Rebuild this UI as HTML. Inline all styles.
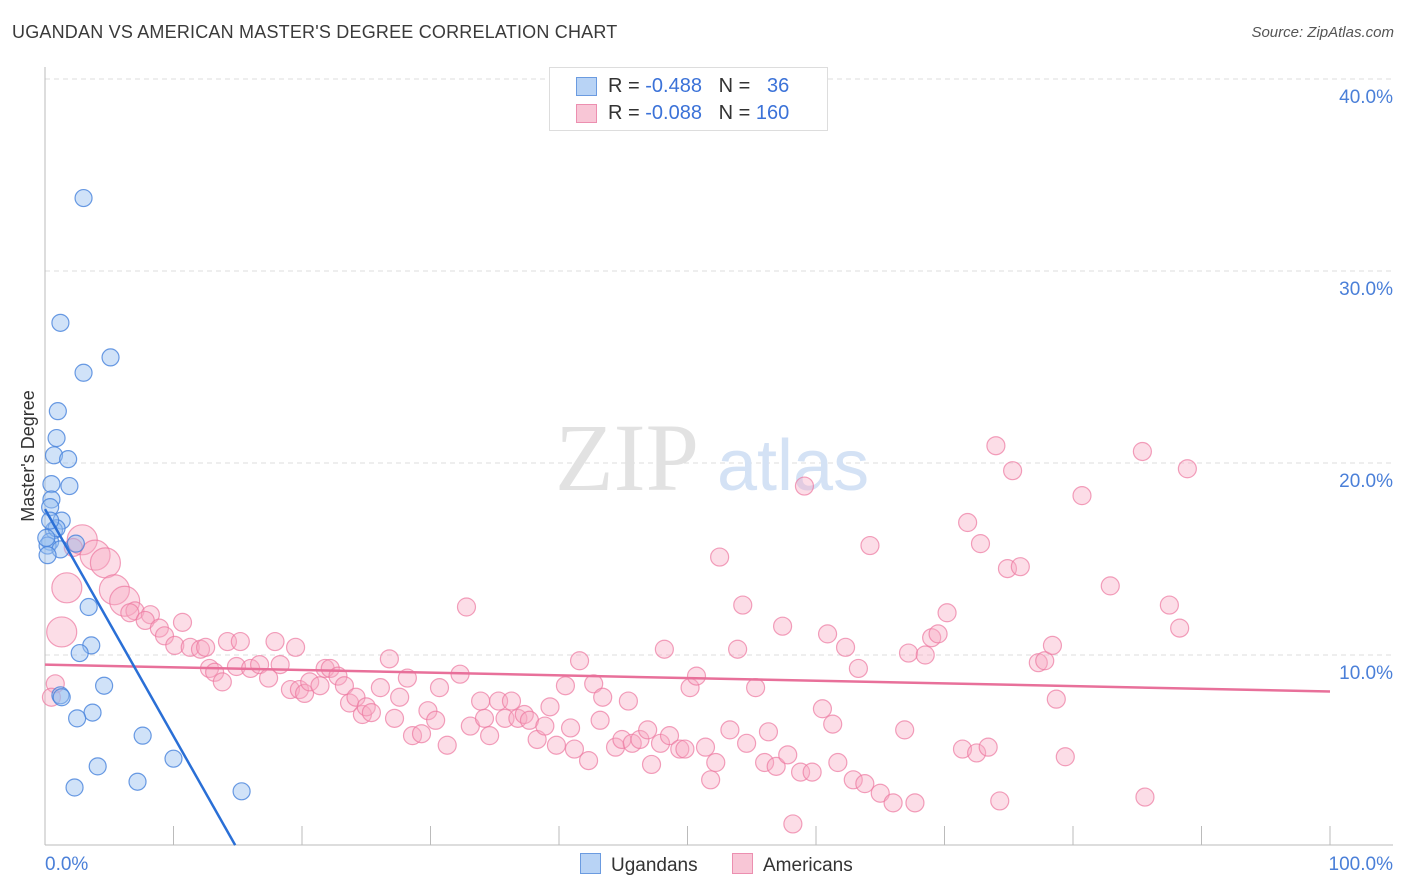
<!DOCTYPE html>
<html><head><meta charset="utf-8">
<style>
body{margin:0;background:#fff;font-family:"Liberation Sans",sans-serif;}
#wrap{position:relative;width:1406px;height:892px;overflow:hidden;}
.t{position:absolute;white-space:nowrap;}
</style></head>
<body>
<div id="wrap">
<div class="t" style="left:12px;top:22px;font-size:18px;color:#3a3a3a;letter-spacing:0.2px">UGANDAN VS AMERICAN MASTER'S DEGREE CORRELATION CHART</div>
<div class="t" style="right:12px;top:24px;font-size:15px;color:#555;font-style:italic">Source: ZipAtlas.com</div>
<svg id="svg" width="1406" height="892" style="position:absolute;left:0;top:0"></svg>
</div>
<script>
const yTicks=[10,20,30,40];
const yTickLabels=["10.0%","20.0%","30.0%","40.0%"];
const xTickLabels=["0.0%","100.0%"];
const blueX=[3.0,1.2,5.1,3.0,1.0,0.9,0.7,1.8,1.9,0.5,0.5,0.4,1.3,0.7,0.4,0.2,2.4,1.2,3.4,3.6,2.7,4.6,1.2,1.3,3.7,2.5,7.6,4.1,10.0,2.3,7.2,15.3,0.9,0.1,0.2,0.4];
const blueY=[33.8,27.3,25.5,24.7,22.7,21.3,20.4,20.2,18.8,18.9,18.1,17.7,17.0,16.5,15.9,15.7,15.8,15.5,12.5,10.5,10.1,8.4,7.9,7.8,7.0,6.7,5.8,4.2,4.6,3.1,3.4,2.9,16.6,16.1,15.2,17.0];
const pinkX=[2.9,3.9,4.7,1.7,1.3,0.8,0.5,5.4,6.2,7.0,8.2,6.6,7.8,8.9,9.3,10.1,10.7,11.3,12.1,12.5,12.8,13.2,13.8,14.2,15.2,14.9,16.0,16.7,17.4,17.9,18.3,19.1,19.5,19.8,20.2,20.6,21.4,21.8,22.2,22.8,23.3,23.7,24.2,24.7,25.0,25.4,26.1,26.8,27.2,27.6,28.2,28.6,29.3,29.8,30.4,30.7,31.3,32.3,32.8,33.1,33.9,34.2,34.6,35.3,35.8,36.3,36.8,37.3,37.7,38.3,38.9,39.3,39.8,40.5,40.9,41.2,41.6,42.3,42.7,43.2,43.4,44.4,44.9,45.4,45.7,46.3,46.9,47.2,47.9,48.2,48.6,49.4,49.8,50.2,50.7,51.4,51.8,52.2,52.5,53.3,53.9,54.3,54.6,55.3,56.0,56.3,56.9,57.4,57.8,58.8,59.1,59.7,60.5,60.9,61.3,61.7,62.3,62.9,63.3,63.8,64.2,65.0,66.0,66.9,67.2,67.7,68.5,69.0,69.5,70.2,71.4,71.8,72.5,72.8,73.4,74.0,74.3,74.9,75.3,75.9,77.3,77.8,78.4,78.7,79.4,80.7,82.9,85.4,85.6,87.5,88.3,88.9,58.2,2.2];
const pinkY=[16.0,15.2,14.8,13.5,11.2,8.5,7.8,13.4,12.8,12.3,12.1,12.2,11.8,11.4,11.0,10.5,11.7,10.4,10.3,10.4,9.3,9.1,8.6,10.7,10.7,9.4,9.3,9.5,8.8,10.7,9.5,8.2,10.4,8.2,8.0,8.6,8.4,9.3,9.3,8.9,8.4,7.5,7.8,6.9,7.3,7.0,8.3,9.8,6.7,7.8,8.8,5.8,5.9,7.1,6.6,8.3,5.3,9.0,12.5,6.3,7.6,6.7,5.8,7.6,6.7,7.6,6.7,6.9,6.6,5.6,6.3,7.3,5.3,8.4,6.2,5.1,9.7,4.5,8.5,6.6,7.8,5.2,5.6,7.6,5.4,5.6,6.1,4.3,5.4,10.3,5.8,5.1,5.1,8.3,8.9,5.2,3.5,4.4,15.1,6.1,10.3,12.6,5.4,8.3,4.4,6.0,4.2,11.5,4.8,3.9,18.8,3.9,7.2,11.1,6.4,4.4,10.4,3.5,9.3,3.3,15.7,2.8,2.3,6.1,10.1,2.3,10.0,10.9,11.1,12.2,5.1,16.9,4.9,15.8,5.2,20.9,2.4,14.5,19.6,14.6,9.6,9.7,10.5,7.7,4.7,18.3,13.6,20.6,2.6,12.6,11.4,19.7,1.2,15.6];
const pinkBig=[1,1,1,1,1,0,0,1,1,0,0,0,0,0,0,0,0,0,0,0,0,0,0,0,0,0,0,0,0,0,0,0,0,0,0,0,0,0,0,0,0,0,0,0,0,0,0,0,0,0,0,0,0,0,0,0,0,0,0,0,0,0,0,0,0,0,0,0,0,0,0,0,0,0,0,0,0,0,0,0,0,0,0,0,0,0,0,0,0,0,0,0,0,0,0,0,0,0,0,0,0,0,0,0,0,0,0,0,0,0,0,0,0,0,0,0,0,0,0,0,0,0,0,0,0,0,0,0,0,0,0,0,0,0,0,0,0,0,0,0,0,0,0,0,0,0,0,0,0,0,0,0,0,0,0,0];
const blueTrendX=[0,14.8];
const blueTrendY=[17.6,0.1];
const pinkTrendX=[0,100];
const pinkTrendY=[9.5,8.1];

const X0=45,X1=1330,Y0=847,PPY=19.2;
const sx=v=>X0+(X1-X0)*v/100;
const sy=v=>Y0-v*PPY;
const svg=document.getElementById('svg');
const NS='http://www.w3.org/2000/svg';
function mk(tag,attrs){const e=document.createElementNS(NS,tag);for(const k in attrs)e.setAttribute(k,attrs[k]);svg.appendChild(e);return e;}

// gridlines
yTicks.forEach((t,i)=>{
  const g=mk('line',{x1:X0,x2:1393,y1:sy(t),y2:sy(t),stroke:'#ddd','stroke-dasharray':'5,4'});
  
  
  const tx=mk('text',{x:1393,y:sy(t)+24,'text-anchor':'end','font-size':19,fill:'#4a7fd8','font-family':'Liberation Sans'});
  tx.textContent=yTickLabels[i];
  
  
});
// axes
const ya=mk('line',{x1:X0,x2:X0,y1:67,y2:845,stroke:'#bbb'});


const xa=mk('line',{x1:X0,x2:1393,y1:845,y2:845,stroke:'#bbb'});


for(let i=0;i<=10;i++){
  const tk=mk('line',{x1:sx(i*10),x2:sx(i*10),y1:826,y2:845,stroke:'#bbb'});
  
  
}
[[0,'start',45],[100,'end',1393]].forEach((a,i)=>{
  const tx=mk('text',{x:a[2],y:870,'text-anchor':a[1],'font-size':19,fill:'#4a7fd8','font-family':'Liberation Sans'});
  tx.textContent=xTickLabels[i];
  
  
});
// y axis title
const yt=mk('text',{x:34,y:456,'text-anchor':'middle','font-size':18,fill:'#333',transform:'rotate(-90 34 456)','font-family':'Liberation Sans'});
yt.textContent="Master's Degree";


// watermark
const wm=mk('text',{x:555,y:490,'font-size':96,fill:'#e2e2e2','font-family':'Liberation Serif'});
wm.textContent='ZIP';


const wm2=mk('text',{x:717,y:490,'font-size':72,fill:'#d4e2f5','font-family':'Liberation Sans'});
wm2.textContent='atlas';


// pink points
pinkX.forEach((v,i)=>{
  const c=mk('circle',{cx:sx(v),cy:sy(pinkY[i]),r:pinkBig[i]?15:9,fill:'rgba(248,170,195,0.4)',stroke:'rgba(236,120,160,0.7)','stroke-width':1.2});
  
  
});
// blue points
blueX.forEach((v,i)=>{
  const c=mk('circle',{cx:sx(v),cy:sy(blueY[i]),r:8.5,fill:'rgba(150,190,240,0.45)',stroke:'rgba(70,130,220,0.8)','stroke-width':1.2});
  
  
});
const pl=mk('line',{x1:sx(pinkTrendX[0]),y1:sy(pinkTrendY[0]),x2:sx(pinkTrendX[1]),y2:sy(pinkTrendY[1]),stroke:'#e8709a','stroke-width':2.5});


const bl=mk('line',{x1:sx(blueTrendX[0]),y1:sy(blueTrendY[0]),x2:sx(blueTrendX[1]),y2:sy(blueTrendY[1]),stroke:'#2a6fd6','stroke-width':2.5});


</script>
<div class="t" style="left:549px;top:67px;width:277px;height:62px;border:1px solid #ddd;background:#fff;font-size:20px">
  <div style="position:absolute;left:26px;top:9px;width:19px;height:17px;background:#b8d3f5;border:1px solid #6b9be0"></div>
  <div class="t" style="left:58px;top:7px;color:#333">R = <span style="color:#3b72d8">-0.488</span>&nbsp;&nbsp;&nbsp;N = &nbsp;&nbsp;<span style="color:#3b72d8">36</span></div>
  <div style="position:absolute;left:26px;top:36px;width:19px;height:17px;background:#f8c6d6;border:1px solid #ec8fb0"></div>
  <div class="t" style="left:58px;top:34px;color:#333">R = <span style="color:#3b72d8">-0.088</span>&nbsp;&nbsp;&nbsp;N = <span style="color:#3b72d8">160</span></div>
</div>
<div class="t" style="left:580px;top:853px;font-size:19px;color:#333"><span style="display:inline-block;width:19px;height:19px;background:#b8d3f5;border:1px solid #6b9be0;vertical-align:-3px;margin-right:10px"></span>Ugandans</div>
<div class="t" style="left:732px;top:853px;font-size:19px;color:#333"><span style="display:inline-block;width:19px;height:19px;background:#f8c6d6;border:1px solid #ec8fb0;vertical-align:-3px;margin-right:10px"></span>Americans</div>
</body></html>
